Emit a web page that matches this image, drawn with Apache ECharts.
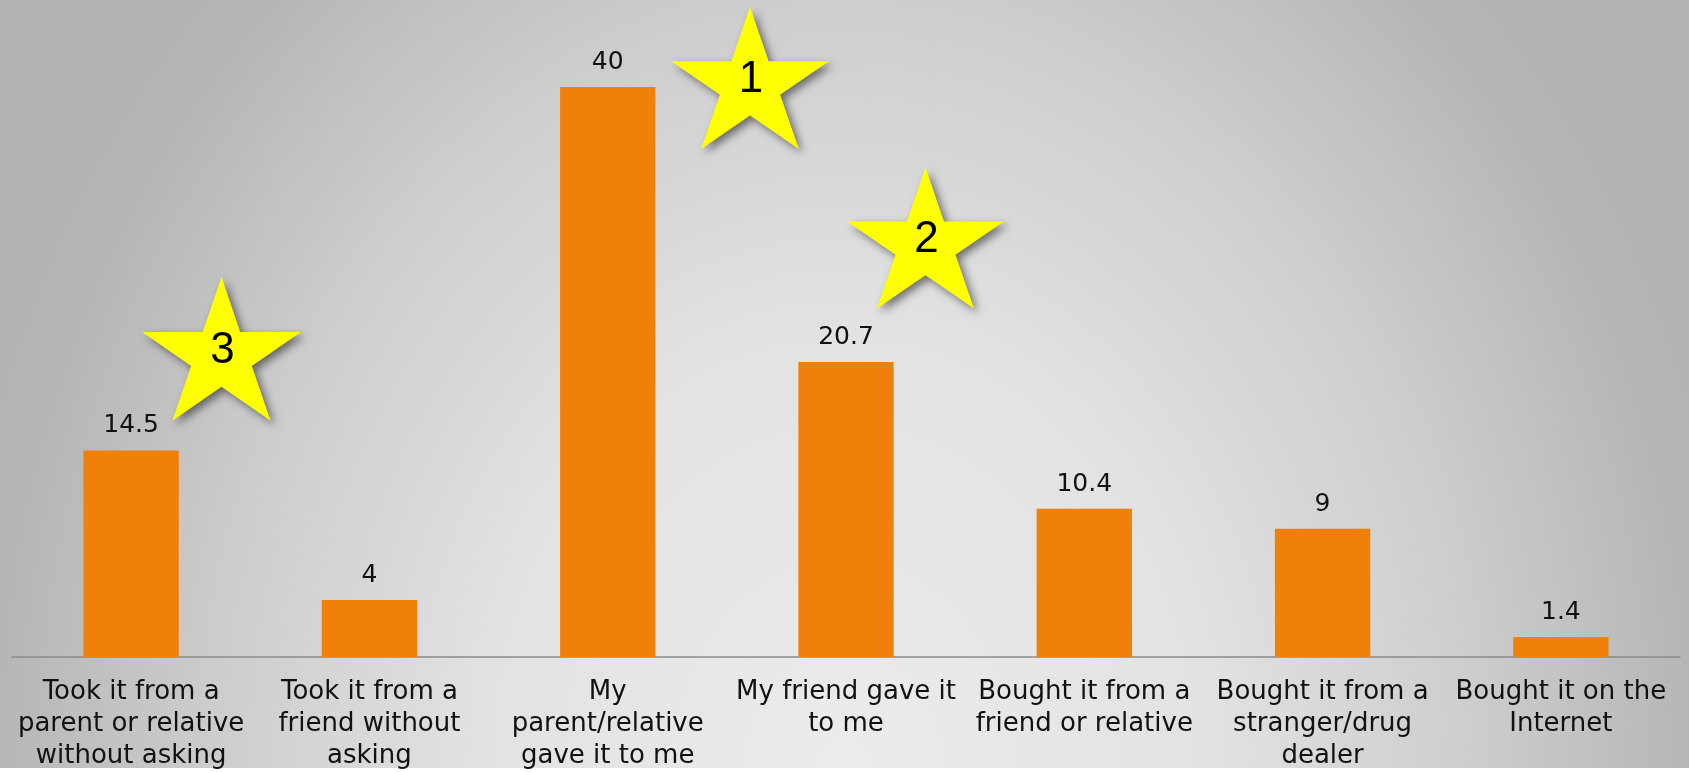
<!DOCTYPE html>
<html>
<head>
<meta charset="utf-8">
<title>Where prescription drugs were obtained</title>
<script src="https://cdn.jsdelivr.net/npm/echarts@6/dist/echarts.min.js"></script>
<style>
  html, body { margin: 0; padding: 0; background: #fff; }
  #chart {
    width: 1689px;
    height: 772px;
    /* slide-like soft radial background, thin white strip at the bottom */
    background-image: radial-gradient(ellipse 900px 1100px at 50% 100%, #ececec 0%, #e2e2e2 40%, #cdcdcd 70%, #b6b6b6 94%, #b4b4b4 100%);
    background-size: 100% 768px;
    background-repeat: no-repeat;
  }
</style>
</head>
<body>
<div id="chart"></div>
<script>
// 分类
var categories = [
  'Took it from a\nparent or relative\nwithout asking',
  'Took it from a\nfriend without\nasking',
  'My\nparent/relative\ngave it to me',
  'My friend gave it\nto me',
  'Bought it from a\nfriend or relative',
  'Bought it from a\nstranger/drug\ndealer',
  'Bought it on the\nInternet'
]
// 百分比
var values = [14.5, 4, 40, 20.7, 10.4, 9, 1.4]
// 排名星星
var starRanks = ['1', '2', '3']

// 星星位置 (像素)
var starLayout = [
  { cx: 750, cy: 85.5, rx: 83, ry: 78.5 },
  { cx: 925.5, cy: 245.5, rx: 82.5, ry: 78 },
  { cx: 221.5, cy: 356.5, rx: 83.5, ry: 79.5 }
]

var chart = echarts.init(document.getElementById('chart'))

function starPoints(s) {
  var pts = []
  for (var i = 0; i < 10; i++) {
    var a = Math.PI * i / 5
    var k = i % 2 === 0 ? 1 : 0.382
    pts.push([s.cx + s.rx * k * Math.sin(a), s.cy - s.ry * k * Math.cos(a)])
  }
  return pts
}

var graphics = []
starRanks.forEach(function (rank, i) {
  var s = starLayout[i]
  graphics.push({
    type: 'polygon',
    shape: { points: starPoints(s) },
    style: {
      fill: '#ffff00',
      shadowBlur: 8,
      shadowOffsetX: 4,
      shadowOffsetY: 4,
      shadowColor: 'rgba(0,0,0,0.5)'
    },
    z: 10
  })
  graphics.push({
    type: 'text',
    x: s.cx + 1,
    y: s.cy - 6,
    style: {
      text: rank,
      fill: '#000',
      font: '44px "Liberation Sans", Arial, sans-serif',
      align: 'center',
      verticalAlign: 'middle'
    },
    z: 11
  })
})

chart.setOption({
  backgroundColor: 'transparent',
  animation: false,
  grid: {
    left: 12,
    right: 9,
    top: 87,
    bottom: 115
  },
  xAxis: {
    type: 'category',
    data: categories,
    axisTick: { show: false },
    axisLine: {
      lineStyle: { color: '#8a8a8a', width: 1.5 }
    },
    axisLabel: {
      interval: 0,
      margin: 19,
      color: '#111',
      fontFamily: '"DejaVu Sans", Verdana, sans-serif',
      fontSize: 26,
      lineHeight: 32,
      align: 'center'
    }
  },
  yAxis: {
    type: 'value',
    min: 0,
    max: 40,
    show: false,
    splitLine: { show: false }
  },
  series: [{
    type: 'bar',
    data: values,
    barWidth: '40%',
    itemStyle: { color: '#f0800a' },
    label: {
      show: true,
      position: 'top',
      distance: 12,
      color: '#111',
      fontFamily: '"DejaVu Sans", Verdana, sans-serif',
      fontSize: 25
    }
  }],
  graphic: graphics
})

window.addEventListener('resize', function () {
  chart.resize()
})
</script>
</body>
</html>
